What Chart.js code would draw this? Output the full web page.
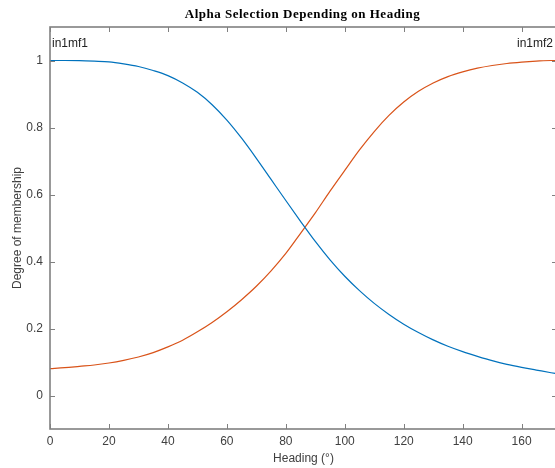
<!DOCTYPE html>
<html>
<head>
<meta charset="utf-8">
<script src="https://cdn.jsdelivr.net/npm/chart.js@4.4.1/dist/chart.umd.min.js"></script>
<style>
  html, body { margin: 0; padding: 0; background: #fff; overflow: hidden; }
  #wrap { width: 560px; height: 468px; }
</style>
</head>
<body>
<div id="wrap"><canvas id="mfChart" width="560" height="468"></canvas></div>
<script>
// Values
const heading = [0, 5, 10, 15, 20, 25, 30, 35, 40, 45, 50, 55, 60, 65, 70, 75, 80, 85, 90,
    95, 100, 105, 110, 115, 120, 125, 130, 135, 140, 145, 150, 155, 160, 165, 170, 172];
const in1mf1 = [1.0, 1.0, 0.9995, 0.998, 0.996, 0.99, 0.982, 0.97, 0.955, 0.933, 0.905, 0.868,
    0.822, 0.768, 0.708, 0.645, 0.582, 0.52, 0.46, 0.405, 0.356, 0.313, 0.275, 0.242, 0.213,
    0.188, 0.166, 0.147, 0.131, 0.117, 0.104, 0.093, 0.084, 0.076, 0.068, 0.065];
const in1mf2 = [0.08, 0.083, 0.087, 0.091, 0.097, 0.105, 0.115, 0.128, 0.145, 0.165, 0.19, 0.218,
    0.25, 0.286, 0.326, 0.372, 0.424, 0.484, 0.545, 0.61, 0.672, 0.733, 0.788, 0.836, 0.876,
    0.908, 0.933, 0.952, 0.966, 0.977, 0.985, 0.991, 0.995, 0.998, 1.0, 1.0];
const xTicks = [0, 20, 40, 60, 80, 100, 120, 140, 160];
const yTicks = [0, 0.2, 0.4, 0.6, 0.8, 1];
const mfNames = ['in1mf1', 'in1mf2'];
const chartTitle = 'Alpha Selection Depending on Heading';

const axisGray = '#808080';
const textGray = '#404040';
const sans = "'Liberation Sans', Arial, Helvetica, sans-serif";

function pts(ys) {
    return heading.map((h, i) => ({ x: h, y: ys[i] }));
}

// Box around the axes with MATLAB-style inward ticks, the MF names and the title
const frame = {
    id: 'frame',
    afterDatasetsDraw(chart) {
        const { ctx, chartArea: a, scales: { x, y } } = chart;
        ctx.save();
        ctx.strokeStyle = axisGray;
        ctx.lineWidth = 1;
        ctx.beginPath();
        xTicks.forEach(v => {
            const px = Math.round(x.getPixelForValue(v)) + 0.5;
            ctx.moveTo(px, a.bottom); ctx.lineTo(px, a.bottom - 5);
            ctx.moveTo(px, a.top); ctx.lineTo(px, a.top + 5);
        });
        yTicks.forEach(v => {
            const py = Math.round(y.getPixelForValue(v)) + 0.5;
            ctx.moveTo(a.left, py); ctx.lineTo(a.left + 5, py);
            ctx.moveTo(a.right, py); ctx.lineTo(a.right - 5, py);
        });
        ctx.stroke();
        ctx.lineWidth = 1.6;
        ctx.strokeRect(a.left, a.top, a.right - a.left, a.bottom - a.top);

        ctx.fillStyle = '#222';
        ctx.font = '12px ' + sans;
        ctx.textBaseline = 'middle';
        const ly = y.getPixelForValue(1.05);
        ctx.textAlign = 'left';
        ctx.fillText(mfNames[0], x.getPixelForValue(heading[0]) + 2, ly);
        ctx.textAlign = 'right';
        ctx.fillText(mfNames[1], x.getPixelForValue(heading[heading.length - 1]) - 4, ly);

        // title centred over the axes
        ctx.fillStyle = '#000';
        ctx.font = "bold 13px 'Liberation Serif', 'Times New Roman', serif";
        ctx.letterSpacing = '0.5px';
        ctx.textAlign = 'center';
        ctx.fillText(chartTitle, (a.left + 555) / 2, 15);
        ctx.restore();
    }
};

new Chart(document.getElementById('mfChart'), {
    type: 'scatter',
    data: {
        datasets: [{
            label: mfNames[0],
            data: pts(in1mf1),
            showLine: true,
            borderColor: '#0072BD',
            borderWidth: 1.2,
            pointRadius: 0,
            cubicInterpolationMode: 'monotone'
        }, {
            label: mfNames[1],
            data: pts(in1mf2),
            showLine: true,
            borderColor: '#D95319',
            borderWidth: 1.2,
            pointRadius: 0,
            cubicInterpolationMode: 'monotone'
        }]
    },
    options: {
        responsive: false,
        animation: false,
        layout: { padding: { left: 0, right: 3, top: 27, bottom: 0 } },
        plugins: {
            legend: { display: false },
            tooltip: { enabled: false },
            title: { display: false }
        },
        scales: {
            x: {
                type: 'linear',
                min: 0,
                max: 172,
                grid: { display: false, drawTicks: false, tickLength: 0 },
                border: { display: false },
                afterBuildTicks: s => { s.ticks = xTicks.map(v => ({ value: v })); },
                afterFit: s => { s.height = 39; },
                ticks: { color: textGray, padding: 5, font: { family: sans, size: 12 } },
                title: {
                    display: true,
                    text: 'Heading (°)',
                    color: textGray,
                    font: { family: sans, size: 12, lineHeight: 1.2 },
                    padding: { top: 2, bottom: 2 }
                }
            },
            y: {
                min: -0.1,
                max: 1.1,
                grid: { display: false, drawTicks: false, tickLength: 0 },
                border: { display: false },
                afterBuildTicks: s => { s.ticks = yTicks.map(v => ({ value: v })); },
                afterFit: s => { s.width = 50; },
                ticks: {
                    color: textGray,
                    padding: 7,
                    font: { family: sans, size: 12 },
                    callback: v => String(+v.toFixed(2))
                },
                title: {
                    display: true,
                    text: 'Degree of membership',
                    color: textGray,
                    font: { family: sans, size: 12, lineHeight: 1.2 },
                    padding: { top: 10.8, bottom: 0 }
                }
            }
        }
    },
    plugins: [frame]
});
</script>
</body>
</html>
